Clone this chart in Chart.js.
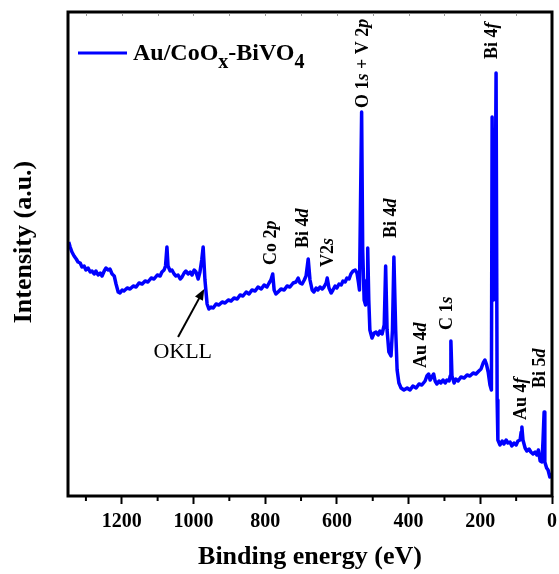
<!DOCTYPE html>
<html><head><meta charset="utf-8">
<script src="https://cdn.jsdelivr.net/npm/chart.js@4.4.1/dist/chart.umd.min.js"></script>
<style>html,body{margin:0;padding:0;background:#fff;}canvas{display:block;}</style>
</head><body>
<canvas id="c" width="559" height="574"></canvas>
<script>
// ---- data (binding energy in eV, intensity in a.u.) ----
const bindingEnergy = [
1348,1344,1339,1333,1327,1322,1316,1311,1305,1300,1294,1288,1283,1277,1272,1266,1260,1255,1249,1244,1238,1233,1227,1221,1216,1210,
1205,1199,1194,1185,1177,1168,1160,1152,1143,1135,1127,1118,1110,1101,1093,1088,1082,1078,1074,1071,1065,1060,1054,1049,1043,1037,
1032,1026,1021,1015,1009,1004,998,993,987,982,977,973,968,962,957,951,945,937,929,920,912,903,895,887,878,870,862,853,845,837,828,
820,811,803,795,789,784,779,775,770,764,756,747,739,731,722,714,708,703,697,691,686,680,675,669,664,658,653,647,641,636,630,627,622,
616,611,605,600,594,588,583,577,572,566,561,555,549,544,540,537,534,531,528,524,520,516,514,511,508,502,496,491,485,480,474,468,464,
460,455,449,445,441,436,432,427,421,413,404,396,388,379,371,363,354,349,344,340,335,330,326,321,315,310,304,298,293,287,284,282,279,
273,268,262,254,245,237,229,220,212,204,198,192,187,183,178,173,169,167,163,159,156,153,151,145,139,134,128,123,117,112,106,100,95,
89,86,84,81,75,70,64,59,53,47,42,38,33,28,25,22,20,15,11,6,3,0];
const intensity = [
254,249,244,240,237,234,233,229,230,226,228,224,225,222,225,221,223,220,225,228,226,227,222,220,212,204,
203,206,205,208,207,210,209,213,212,215,214,218,217,221,220,224,226,230,249,230,225,226,222,220,221,217,
219,223,225,222,224,221,226,224,217,224,236,249,216,192,187,189,188,192,191,194,193,196,195,198,197,201,200,204,202,206,205,
209,207,211,209,213,216,222,206,202,204,207,206,210,209,213,214,218,213,212,216,220,237,216,206,204,208,206,209,207,209,213,218,208,
203,206,210,208,212,211,215,214,218,217,222,225,226,223,214,206,296,384,246,196,191,216,248,196,166,158,163,164,161,165,162,171,230,
166,144,140,166,239,166,126,113,108,106,108,106,110,108,112,111,115,120,122,116,119,122,115,112,115,113,116,113,116,115,120,155,120,
113,117,115,119,118,121,120,123,122,125,127,133,136,132,124,111,106,379,196,246,423,96,56,51,55,52,56,53,54,50,53,51,55,
56,64,69,56,48,45,47,44,42,44,41,46,35,34,56,84,34,28,26,19,21,22];
const xTickValues = [0,200,400,600,800,1000,1200];
const xMinorValues = [100,300,500,700,900,1100,1300];
const seriesName = ['Au/CoO','x','-BiVO','4'];
// peak labels: text ("*" marks italic), energy (eV), intensity where text starts
const peakTexts    = ['O 1*s* + V 2*p*','Bi 4*f*','Co 2*p*','Bi 4*d*','V2*s*','Bi 4*d*','Au 4*d*','C 1*s*','Au 4*f*','Bi 5*d*'];
const peakEnergies = [527,167,784,694,625,449,365,293,86,33];
const peakHeights  = [388,437,231,248,229,258,128,166,76,108];
const okllText = 'OKLL';
const okllPos = [1030,144];
const okllArrow = [[1043,159],[970,207]];

const SERIF = '"Liberation Serif","Times New Roman",serif';

function drawRich(ctx, text, size, bold){
  const parts = text.split('*');
  let x = 0;
  parts.forEach((p,i)=>{
    if(!p) return;
    ctx.font = (i%2===1?'italic ':'') + (bold?'bold ':'') + size + 'px ' + SERIF;
    ctx.fillText(p, x, 0);
    x += ctx.measureText(p).width;
  });
}

const decor = {
  id:'decor',
  afterDatasetsDraw(chart){
    const {ctx, chartArea:a, scales:{x,y}} = chart;
    ctx.save();
    // frame
    ctx.strokeStyle = '#000'; ctx.lineWidth = 3;
    ctx.strokeRect(a.left, a.top, a.right-a.left, a.bottom-a.top);
    // minor bottom ticks
    ctx.lineWidth = 2;
    xMinorValues.forEach(v=>{
      const px = x.getPixelForValue(v);
      ctx.beginPath(); ctx.moveTo(px, a.bottom); ctx.lineTo(px, a.bottom+5); ctx.stroke();
    });
    // top inward ticks
    ctx.strokeStyle = '#999'; ctx.lineWidth = 1;
    xMinorValues.concat(xTickValues).forEach(v=>{
      const px = Math.round(x.getPixelForValue(v))+0.5;
      if (px > a.right-3) return;
      ctx.beginPath(); ctx.moveTo(px, a.top+1.5); ctx.lineTo(px, a.top+4); ctx.stroke();
    });
    // peak labels
    ctx.fillStyle = '#000';
    ctx.textBaseline = 'middle'; ctx.textAlign = 'left';
    peakTexts.forEach((t,i)=>{
      ctx.save();
      ctx.translate(x.getPixelForValue(peakEnergies[i]), y.getPixelForValue(peakHeights[i]));
      ctx.rotate(-Math.PI/2);
      drawRich(ctx, t, 18, true);
      ctx.restore();
    });
    // OKLL label + arrow
    ctx.textAlign = 'center';
    ctx.font = '22px ' + SERIF;
    ctx.fillText(okllText, x.getPixelForValue(okllPos[0]), y.getPixelForValue(okllPos[1]));
    const x0 = x.getPixelForValue(okllArrow[0][0]), y0 = y.getPixelForValue(okllArrow[0][1]);
    const x1 = x.getPixelForValue(okllArrow[1][0]), y1 = y.getPixelForValue(okllArrow[1][1]);
    const ang = Math.atan2(y1-y0, x1-x0);
    ctx.strokeStyle = '#000'; ctx.lineWidth = 2;
    ctx.beginPath(); ctx.moveTo(x0,y0); ctx.lineTo(x1-7*Math.cos(ang), y1-7*Math.sin(ang)); ctx.stroke();
    ctx.beginPath();
    ctx.moveTo(x1,y1);
    ctx.lineTo(x1-11*Math.cos(ang)+4.5*Math.sin(ang), y1-11*Math.sin(ang)-4.5*Math.cos(ang));
    ctx.lineTo(x1-11*Math.cos(ang)-4.5*Math.sin(ang), y1-11*Math.sin(ang)+4.5*Math.cos(ang));
    ctx.closePath(); ctx.fill();
    // legend
    const lx = a.left + 10, ly = a.top + 41;
    ctx.strokeStyle = '#0000FF'; ctx.lineWidth = 3;
    ctx.beginPath(); ctx.moveTo(lx, ly); ctx.lineTo(lx+49, ly); ctx.stroke();
    ctx.textAlign = 'left'; ctx.textBaseline = 'alphabetic'; ctx.fillStyle = '#000';
    let tx = lx + 55;
    seriesName.forEach((s,i)=>{
      const sub = i%2===1;
      ctx.font = 'bold ' + (sub?20:24) + 'px ' + SERIF;
      ctx.fillText(s, tx, ly + 7 + (sub?8:0));
      tx += ctx.measureText(s).width;
    });
    // y axis title
    ctx.save();
    ctx.translate(24, y.getPixelForValue(254));
    ctx.rotate(-Math.PI/2);
    ctx.textAlign = 'center'; ctx.textBaseline = 'middle';
    ctx.font = 'bold 26px ' + SERIF;
    ctx.fillText('Intensity (a.u.)', 0, 0);
    ctx.restore();
    ctx.restore();
  }
};

new Chart(document.getElementById('c'), {
  type:'line',
  data:{ datasets:[{
    label: seriesName.join(''),
    data: bindingEnergy.map((e,i)=>({x:e, y:intensity[i]})),
    borderColor:'#0000FF', borderWidth:3.5, pointRadius:0, tension:0,
    borderJoinStyle:'round', fill:false
  }]},
  options:{
    responsive:false, animation:false, devicePixelRatio:1,
    layout:{padding:{top:12,right:7,left:0,bottom:0}},
    plugins:{legend:{display:false}, tooltip:{enabled:false}},
    scales:{
      x:{
        type:'linear', reverse:true, min:0, max:1350,
        afterFit(s){ s.height = 78; },
        border:{display:false},
        grid:{display:true, drawOnChartArea:false, drawTicks:true, tickLength:8, tickWidth:2, tickColor:'#000', color:'#000'},
        afterBuildTicks(s){ s.ticks = xTickValues.map(v=>({value:v})); },
        ticks:{ color:'#000', padding:6, autoSkip:false, maxRotation:0, includeBounds:false,
          font:{family:SERIF, size:20, weight:'bold'}, callback:v=>String(v)},
        title:{display:true, text:'Binding energy (eV)', color:'#000',
          font:{family:SERIF, size:26, weight:'bold', lineHeight:1}, padding:{top:0,bottom:4}}
      },
      y:{
        min:0, max:484,
        afterFit(s){ s.width = 68; },
        border:{display:false}, grid:{display:false},
        ticks:{display:false}
      }
    }
  },
  plugins:[decor]
});
</script>
</body></html>
